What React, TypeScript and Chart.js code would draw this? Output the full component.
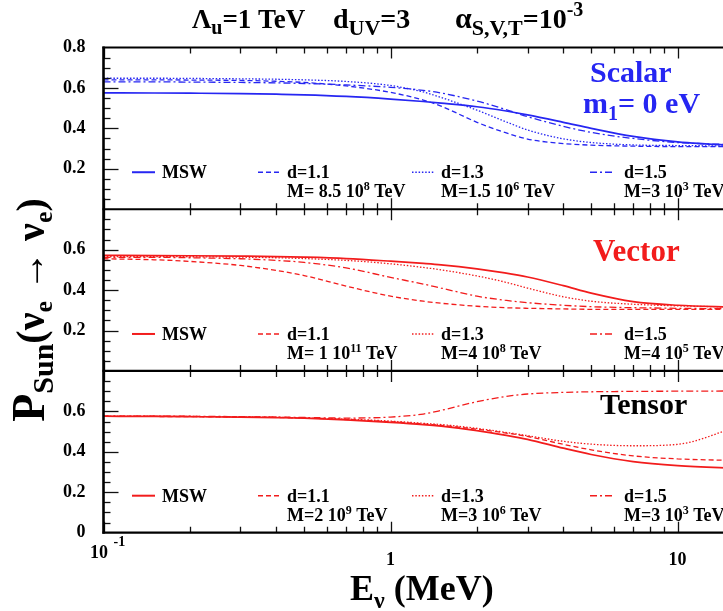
import React, { useEffect, useRef } from 'react';
import { Chart, registerables } from 'chart.js';

Chart.register(...registerables);

// ---------- data ----------
const energies = [0.1, 0.15, 0.2, 0.3, 0.4, 0.5, 0.7, 1, 1.3, 1.5, 2, 2.5, 3, 4, 5, 7, 10, 15, 20];

const scalarMSW = [0.576, 0.575, 0.574, 0.572, 0.569, 0.566, 0.558, 0.545, 0.533, 0.525, 0.507, 0.487, 0.467, 0.43, 0.4, 0.36, 0.333, 0.317, 0.311];
const scalarD11 = [0.64, 0.64, 0.639, 0.637, 0.633, 0.627, 0.61, 0.578, 0.54, 0.51, 0.43, 0.38, 0.347, 0.325, 0.317, 0.312, 0.31, 0.31, 0.31];
const scalarD13 = [0.648, 0.648, 0.647, 0.645, 0.643, 0.64, 0.632, 0.612, 0.58, 0.553, 0.49, 0.435, 0.392, 0.348, 0.33, 0.318, 0.315, 0.313, 0.312];
const scalarD15 = [0.63, 0.63, 0.629, 0.627, 0.625, 0.622, 0.615, 0.603, 0.588, 0.575, 0.535, 0.495, 0.458, 0.41, 0.38, 0.35, 0.33, 0.32, 0.315];

const vectorMSW = [0.572, 0.571, 0.57, 0.568, 0.566, 0.563, 0.556, 0.543, 0.532, 0.525, 0.505, 0.485, 0.465, 0.422, 0.385, 0.343, 0.325, 0.317, 0.313];
const vectorD11 = [0.555, 0.55, 0.542, 0.522, 0.497, 0.472, 0.42, 0.37, 0.345, 0.335, 0.32, 0.313, 0.31, 0.307, 0.305, 0.305, 0.305, 0.305, 0.305];
const vectorD13 = [0.566, 0.566, 0.565, 0.563, 0.56, 0.556, 0.547, 0.53, 0.512, 0.5, 0.47, 0.44, 0.41, 0.367, 0.345, 0.33, 0.322, 0.317, 0.314];
const vectorD15 = [0.562, 0.562, 0.56, 0.555, 0.547, 0.537, 0.51, 0.463, 0.43, 0.41, 0.37, 0.35, 0.338, 0.325, 0.318, 0.313, 0.31, 0.308, 0.307];

const tensorMSW = [0.576, 0.575, 0.574, 0.572, 0.569, 0.566, 0.558, 0.546, 0.535, 0.527, 0.505, 0.483, 0.462, 0.418, 0.387, 0.352, 0.332, 0.32, 0.314];
const tensorD11 = [0.576, 0.575, 0.574, 0.572, 0.57, 0.567, 0.56, 0.549, 0.538, 0.531, 0.512, 0.494, 0.476, 0.437, 0.41, 0.38, 0.365, 0.358, 0.355];
const tensorD13 = [0.577, 0.576, 0.575, 0.573, 0.571, 0.568, 0.562, 0.552, 0.541, 0.535, 0.516, 0.497, 0.48, 0.452, 0.438, 0.43, 0.437, 0.51, 0.58];
const tensorD15 = [0.577, 0.577, 0.576, 0.574, 0.572, 0.57, 0.567, 0.572, 0.587, 0.605, 0.648, 0.673, 0.686, 0.694, 0.697, 0.699, 0.7, 0.701, 0.702];

const xTickValues = [0.1, 1, 10];
const xMinorValues = [0.2, 0.3, 0.4, 0.5, 0.6, 0.7, 0.8, 0.9, 2, 3, 4, 5, 6, 7, 8, 9, 20];
const scalarYTicks = [0.2, 0.4, 0.6, 0.8];
const vectorYTicks = [0.2, 0.4, 0.6];
const tensorYTicks = [0, 0.2, 0.4, 0.6];

const legendLabels = ['MSW', 'd=1.1', 'd=1.3', 'd=1.5'];
const scalarMasses = [['M= 8.5 10', '8', ' TeV'], ['M=1.5 10', '6', ' TeV'], ['M=3 10', '3', ' TeV']];
const vectorMasses = [['M= 1 10', '11', ' TeV'], ['M=4 10', '8', ' TeV'], ['M=4 10', '5', ' TeV']];
const tensorMasses = [['M=2 10', '9', ' TeV'], ['M=3 10', '6', ' TeV'], ['M=3 10', '3', ' TeV']];

const BLUE = '#2626f2';
const RED = '#f21c1c';
const FONT = '"Liberation Serif", "Times New Roman", serif';

const lineStyles = [
  { dash: [] as number[], width: 1.7 },
  { dash: [5, 3], width: 1.3 },
  { dash: [1.5, 1.8], width: 1.3 },
  { dash: [7, 3, 2, 3], width: 1.3 },
];

type Seg = { t: string; size: number; dy?: number };

function drawRich(ctx: CanvasRenderingContext2D, segs: Seg[], x: number, y: number, color: string, align: 'left' | 'center' = 'left') {
  ctx.fillStyle = color;
  ctx.textBaseline = 'alphabetic';
  ctx.textAlign = 'left';
  let total = 0;
  for (const s of segs) {
    ctx.font = `bold ${s.size}px ${FONT}`;
    total += ctx.measureText(s.t).width;
  }
  let cx = align === 'center' ? x - total / 2 : x;
  for (const s of segs) {
    ctx.font = `bold ${s.size}px ${FONT}`;
    ctx.fillText(s.t, cx, y + (s.dy || 0));
    cx += ctx.measureText(s.t).width;
  }
}

const panels = [
  { axis: 'yS', color: BLUE, sets: [scalarMSW, scalarD11, scalarD13, scalarD15], masses: scalarMasses, yTicks: scalarYTicks, weight: 3 },
  { axis: 'yV', color: RED, sets: [vectorMSW, vectorD11, vectorD13, vectorD15], masses: vectorMasses, yTicks: vectorYTicks, weight: 2 },
  { axis: 'yT', color: RED, sets: [tensorMSW, tensorD11, tensorD13, tensorD15], masses: tensorMasses, yTicks: tensorYTicks, weight: 1 },
];

const decoPlugin = {
  id: 'deco',
  afterDraw(chart: any) {
    const ctx: CanvasRenderingContext2D = chart.ctx;
    const ca = chart.chartArea;
    const xs = chart.scales.x;
    ctx.save();
    // ticks
    ctx.strokeStyle = '#111';
    ctx.lineWidth = 1.3;
    for (const p of panels) {
      const sc = chart.scales[p.axis];
      for (let k = 1; k < 16; k++) {
        const v = k * 0.05;
        const py = Math.round(sc.getPixelForValue(v)) + 0.5;
        const len = k % 4 === 0 ? 15 : 7;
        ctx.beginPath();
        ctx.moveTo(ca.left, py);
        ctx.lineTo(ca.left + len, py);
        ctx.stroke();
      }
      for (const [vals, len] of [[xTickValues, 11], [xMinorValues, 6]] as [number[], number][]) {
        for (const v of vals) {
          const px = Math.round(xs.getPixelForValue(v)) + 0.5;
          ctx.beginPath();
          ctx.moveTo(px, sc.top);
          ctx.lineTo(px, sc.top + len);
          ctx.moveTo(px, sc.bottom);
          ctx.lineTo(px, sc.bottom - len);
          ctx.stroke();
        }
      }
    }
    // frame
    ctx.strokeStyle = '#000';
    ctx.lineWidth = 2.2;
    const hLines = [panels[0], panels[1], panels[2]].map(p => chart.scales[p.axis].top);
    hLines.push(chart.scales[panels[2].axis].bottom);
    for (const y of hLines) {
      ctx.beginPath();
      ctx.moveTo(ca.left - 1, y);
      ctx.lineTo(ca.right, y);
      ctx.stroke();
    }
    ctx.lineWidth = 2.6;
    ctx.beginPath();
    ctx.moveTo(ca.left, ca.top - 1);
    ctx.lineTo(ca.left, ca.bottom + 1);
    ctx.stroke();

    // x tick label 10^-1
    const p01 = xs.getPixelForValue(0.1);
    ctx.fillStyle = '#000';
    ctx.font = `bold 18px ${FONT}`;
    ctx.textAlign = 'right';
    ctx.textBaseline = 'alphabetic';
    ctx.fillText('10', p01 + 4.5, 558);
    ctx.textAlign = 'left';
    ctx.font = `bold 14px ${FONT}`;
    ctx.fillText('-1', p01 + 10, 546);

    // legends
    const sampleX = [[132, 155], [258, 281], [412, 435], [590, 614]];
    const textX = [162, 287, 441, 624];
    panels.forEach((p) => {
      const sc = chart.scales[p.axis];
      const row1 = sc.bottom - 31;
      const row2 = sc.bottom - 12;
      for (let i = 0; i < 4; i++) {
        const st = lineStyles[i];
        ctx.strokeStyle = p.color;
        ctx.lineWidth = st.width + 0.3;
        ctx.setLineDash(st.dash);
        ctx.beginPath();
        ctx.moveTo(sampleX[i][0], row1 - 6);
        ctx.lineTo(sampleX[i][1], row1 - 6);
        ctx.stroke();
        ctx.setLineDash([]);
        drawRich(ctx, [{ t: legendLabels[i], size: 18 }], textX[i], row1, '#000');
        if (i > 0) {
          const m = p.masses[i - 1];
          drawRich(ctx, [{ t: m[0], size: 18 }, { t: m[1], size: 12, dy: -7 }, { t: m[2], size: 18 }], textX[i], row2, '#000');
        }
      }
    });

    // panel labels
    const sS = chart.scales.yS, sV = chart.scales.yV, sT = chart.scales.yT;
    drawRich(ctx, [{ t: 'Scalar', size: 30 }], 590, sS.top + 34.5, BLUE);
    drawRich(ctx, [{ t: 'm', size: 30 }, { t: '1', size: 20, dy: 7 }, { t: '= 0 eV', size: 30 }], 583, sS.top + 65.5, BLUE);
    drawRich(ctx, [{ t: 'Vector', size: 31 }], 593, sV.top + 52, RED);
    drawRich(ctx, [{ t: 'Tensor', size: 30 }], 600, sT.top + 43, '#000');

    // title
    drawRich(ctx, [{ t: 'Λ', size: 27 }, { t: 'u', size: 20, dy: 6 }, { t: '=1 TeV', size: 27 }], 192, 28, '#000');
    drawRich(ctx, [{ t: 'd', size: 28 }, { t: 'UV', size: 22, dy: 7 }, { t: '=3', size: 28 }], 333, 28, '#000');
    drawRich(ctx, [{ t: 'α', size: 30 }, { t: 'S,V,T', size: 22, dy: 7 }, { t: '=10', size: 28 }, { t: '-3', size: 20, dy: -12 }], 455, 28, '#000');

    // x title
    drawRich(ctx, [{ t: 'E', size: 36 }, { t: 'ν', size: 24, dy: 8 }, { t: ' (MeV)', size: 36 }], 350, 600, '#000');

    // y title (rotated)
    ctx.save();
    ctx.translate(44, 310);
    ctx.rotate(-Math.PI / 2);
    drawRich(ctx, [
      { t: 'P', size: 46 },
      { t: 'Sun', size: 30, dy: 9 },
      { t: '(ν', size: 40 },
      { t: 'e', size: 26, dy: 8 },
      { t: ' → ν', size: 40 },
      { t: 'e', size: 26, dy: 8 },
      { t: ')', size: 40 },
    ], 0, 0, '#000', 'center');
    ctx.restore();

    ctx.restore();
  },
};

export default function App() {
  const ref = useRef<HTMLCanvasElement | null>(null);
  useEffect(() => {
    if (!ref.current) return;
    const datasets: any[] = [];
    panels.forEach((p) => {
      p.sets.forEach((arr, i) => {
        datasets.push({
          label: `${p.axis}-${legendLabels[i]}`,
          data: energies.map((e, j) => ({ x: e, y: arr[j] })),
          yAxisID: p.axis,
          borderColor: p.color,
          borderWidth: lineStyles[i].width,
          borderDash: lineStyles[i].dash,
          pointRadius: 0,
          fill: false,
          cubicInterpolationMode: 'monotone',
        });
      });
    });
    const yScale = (p: any) => ({
      type: 'linear',
      min: 0,
      max: 0.8,
      position: 'left',
      stack: 'panels',
      stackWeight: 1,
      weight: p.weight,
      grid: { display: false },
      border: { display: false },
      afterBuildTicks: (s: any) => { s.ticks = p.yTicks.map((v: number) => ({ value: v })); },
      afterFit: (s: any) => { s.width = 103.5; },
      ticks: {
        padding: 10,
        color: '#000',
        font: { family: FONT, size: 18, weight: 'bold' },
        callback: (v: any) => (v === 0 ? '0' : Number(v).toFixed(1)),
      },
    });
    const chart = new Chart(ref.current, {
      type: 'line',
      data: { datasets },
      options: {
        responsive: false,
        animation: false,
        layout: { padding: { left: 0, right: 16, top: 47.5, bottom: 0 } },
        plugins: { legend: { display: false }, tooltip: { enabled: false }, title: { display: false } },
        scales: {
          x: {
            type: 'logarithmic',
            min: 0.1,
            max: 20,
            position: 'bottom',
            grid: { display: false },
            border: { display: false },
            afterBuildTicks: (s: any) => { s.ticks = xTickValues.map((v) => ({ value: v })); },
            afterFit: (s: any) => { s.height = 78.3; },
            ticks: {
              autoSkip: false,
              maxRotation: 0,
              padding: 9,
              color: '#000',
              font: { family: FONT, size: 18, weight: 'bold' },
              callback: (v: any) => (v === 0.1 ? '' : String(v)),
            },
          },
          yS: yScale(panels[0]),
          yV: yScale(panels[1]),
          yT: yScale(panels[2]),
        } as any,
      },
      plugins: [decoPlugin],
    } as any);
    return () => chart.destroy();
  }, []);
  return (
    <div style={{ position: 'fixed', left: 0, top: 0, width: 723, height: 611, overflow: 'hidden', background: '#fff' }}>
      <canvas ref={ref} width={780} height={611} style={{ display: 'block' }} />
    </div>
  );
}
